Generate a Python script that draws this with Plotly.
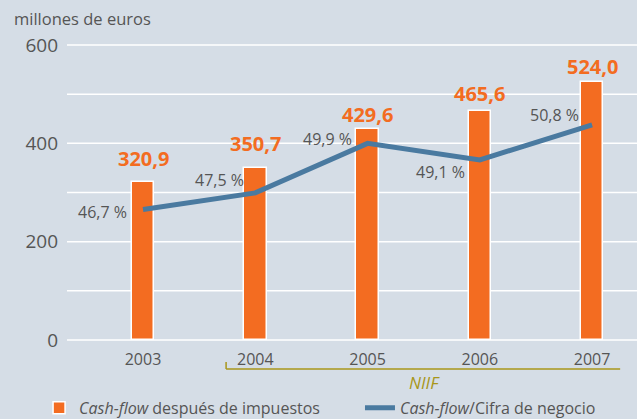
import plotly.graph_objects as go

years = ["2003", "2004", "2005", "2006", "2007"]
cash_flow = [320.9, 350.7, 429.6, 465.6, 524.0]
ratio_pct = [46.7, 47.5, 49.9, 49.1, 50.8]
y_ticks = [0, 200, 400, 600]
grid_vals = [0, 100, 200, 300, 400, 500, 600]

ORANGE = "#f36c21"
BLUE = "#4a7aa0"
BG = "#d5dde6"
GRAY = "#555555"
OLIVE = "#a8961a"
FONT = "Open Sans"

def es(v, d=1):
    return f"{v:.{d}f}".replace(".", ",")

xs = list(range(len(years)))

fig = go.Figure()
fig.add_trace(go.Bar(
    x=xs, y=cash_flow, width=0.2,
    marker=dict(color=ORANGE, line=dict(color="white", width=1.5)),
    name="<i>Cash-flow</i> después de impuestos", legend="legend",
))
fig.add_trace(go.Scatter(
    x=xs, y=ratio_pct, yaxis="y2", mode="lines",
    line=dict(color=BLUE, width=5),
    name="<i>Cash-flow</i>/Cifra de negocio", legend="legend2",
))

# value labels over bars
bar_label_shift = [24, 24, 14, 18, 16]
for i, v in enumerate(cash_flow):
    fig.add_annotation(x=xs[i], y=v, text=f"<b>{es(v)}</b>", showarrow=False,
                       yanchor="middle", yshift=bar_label_shift[i],
                       font=dict(family=FONT, size=20, color=ORANGE))

# percent labels on line
pct_shift = [(-14, -3), (-9, 13), (-14, 4), (-13, -12), (-11, 10)]
for i, v in enumerate(ratio_pct):
    fig.add_annotation(x=xs[i], y=v, yref="y2", text=f"{es(v)} %", showarrow=False,
                       xanchor="right", yanchor="middle",
                       xshift=pct_shift[i][0], yshift=pct_shift[i][1],
                       font=dict(family=FONT, size=16, color=GRAY))

# gridlines
for g in grid_vals:
    fig.add_shape(type="line", xref="paper", yref="y", x0=0, x1=1, y0=g, y1=g,
                  line=dict(color="white", width=1.5), layer="below")

# NIIF bracket
fig.add_shape(type="line", xref="x", yref="paper", x0=0.74, x1=4.25, y0=-0.0903, y1=-0.0903,
              line=dict(color=OLIVE, width=1.5))
fig.add_shape(type="line", xref="x", yref="paper", x0=0.74, x1=0.74, y0=-0.0903, y1=-0.0669,
              line=dict(color=OLIVE, width=1.5))
fig.add_annotation(x=2.51, y=-0.1338, xref="x", yref="paper", text="<i>NIIF</i>",
                   showarrow=False, yanchor="middle",
                   font=dict(family=FONT, size=17, color=OLIVE))

fig.add_annotation(x=-0.0965, y=1.0836, xref="paper", yref="paper", text="millones de euros",
                   showarrow=False, xanchor="left", yanchor="middle",
                   font=dict(family=FONT, size=16.5, color=GRAY))

legend_common = dict(orientation="h", y=-0.163, xanchor="left", yanchor="top",
                     bgcolor="rgba(0,0,0,0)", borderwidth=0,
                     font=dict(family=FONT, size=16, color=GRAY))

fig.update_layout(
    width=637, height=419,
    margin=dict(l=67, r=0, t=43, b=77, autoexpand=False),
    paper_bgcolor=BG, plot_bgcolor=BG,
    font=dict(family=FONT, size=16, color=GRAY),
    showlegend=True,
    legend=dict(x=-0.049, **legend_common),
    legend2=dict(x=0.514, **legend_common),
    xaxis=dict(range=[-0.677, 4.40], tickvals=xs, ticktext=years,
               showgrid=False, zeroline=False, showline=False, ticks="",
               ticklabelstandoff=6,
               tickfont=dict(family=FONT, size=16, color=GRAY)),
    yaxis=dict(range=[-4, 604], tickvals=y_ticks, showgrid=False,
               zeroline=False, ticks="", ticklabelstandoff=8,
               tickfont=dict(family=FONT, size=19, color=GRAY)),
    yaxis2=dict(range=[40.28, 54.76], overlaying="y", visible=False),
    bargap=0,
)

fig.write_html("out.html", config={"displayModeBar": False},
               post_script="document.body.style.margin='0';document.body.style.padding='0';"
                           "document.body.style.background='" + BG + "';")
